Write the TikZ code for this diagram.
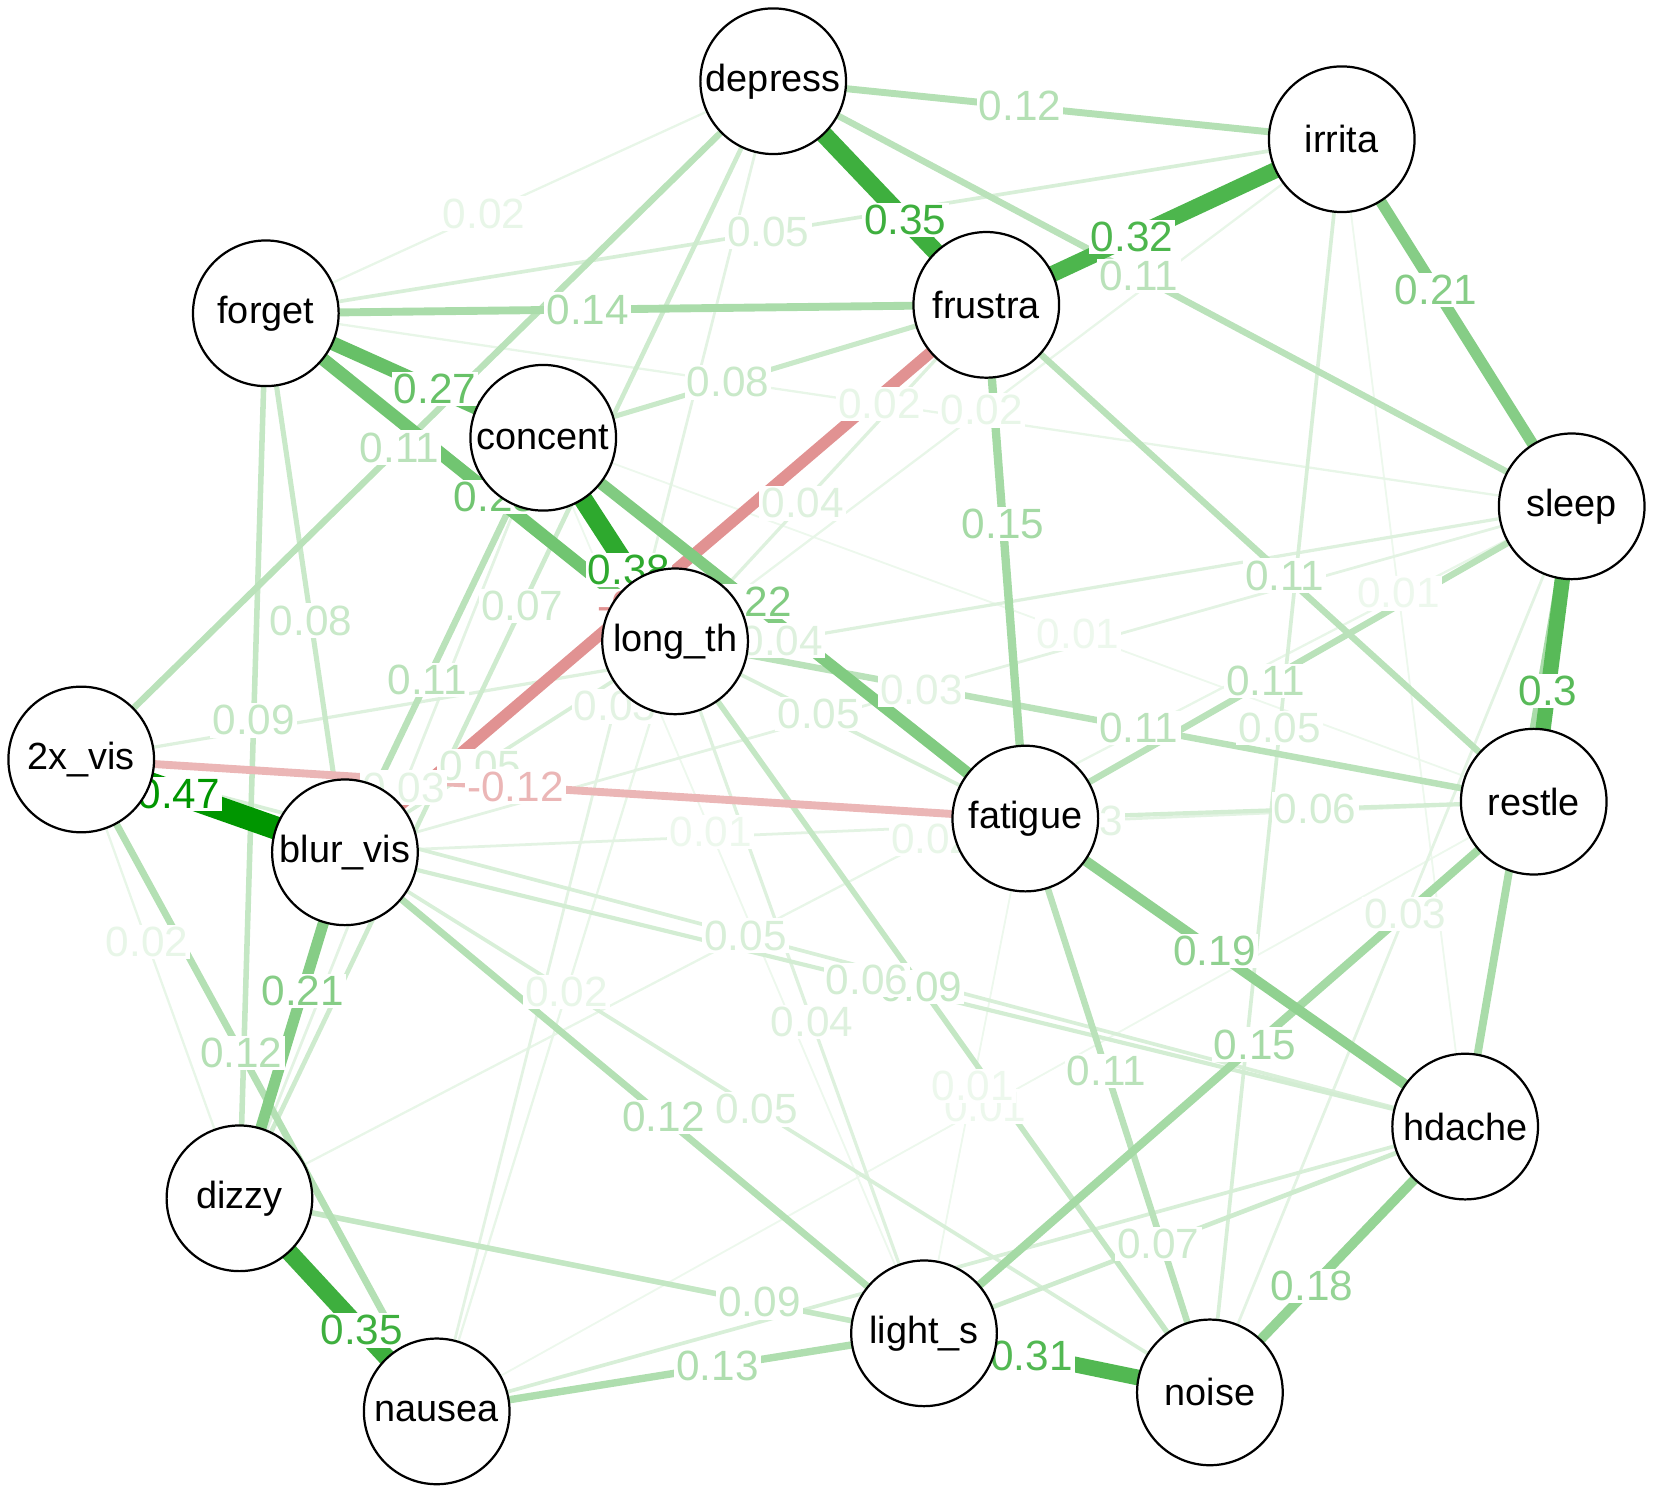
\documentclass[tikz,border=0pt]{standalone}
\usepackage{fontspec}
\setmainfont{Liberation Sans}
\usetikzlibrary{backgrounds}
\definecolor{posc}{RGB}{0,150,0}
\definecolor{negc}{RGB}{195,35,35}
% all connectors, weakest first (drawn in this order)
\def\linelist{concent/restle/0.01/posc, irrita/hdache/0.01/posc, concent/light/0.01/posc,
restle/nausea/0.01/posc, fatigue/light/0.01/posc,
forget/depress/0.02/posc, forget/sleep/0.02/posc, longth/irrita/0.02/posc, xvis/dizzy/0.02/posc,
sleep/dizzy/0.02/posc, longth/nausea/0.02/posc,
blur/restle/0.03/posc, sleep/noise/0.03/posc, blur/sleep/0.03/posc, dizzy/concent/0.03/posc,
depress/nausea/0.03/posc,
longth/frustra/0.04/posc, xvis/sleep/0.04/posc, longth/light/0.04/posc,
forget/irrita/0.05/posc, irrita/noise/0.05/posc, xvis/hdache/0.05/posc, longth/fatigue/0.05/posc,
blur/longth/0.05/posc, blur/noise/0.05/posc, nausea/hdache/0.05/posc,
fatigue/restle/0.06/posc, blur/hdache/0.06/posc,
depress/dizzy/0.07/posc, hdache/light/0.07/posc,
concent/frustra/0.08/posc, forget/blur/0.08/posc,
forget/dizzy/0.09/posc, longth/noise/0.09/posc, dizzy/noise/0.09/posc,
depress/sleep/0.11/posc, depress/xvis/0.11/posc, concent/blur/0.11/posc, sleep/fatigue/0.11/posc,
longth/restle/0.11/posc, frustra/restle/0.11/posc, fatigue/noise/0.11/posc,
depress/irrita/0.12/posc, blur/light/0.12/posc, xvis/nausea/0.12/posc, xvis/fatigue/0.14/negc,
nausea/light/0.13/posc, sleep/hdache/0.14/posc, forget/frustra/0.14/posc,
frustra/fatigue/0.15/posc, restle/light/0.15/posc,
hdache/noise/0.18/posc, fatigue/hdache/0.19/posc,
frustra/blur/0.22/negc,
irrita/sleep/0.21/posc, blur/dizzy/0.21/posc, concent/fatigue/0.22/posc,
forget/longth/0.25/posc, forget/concent/0.27/posc, sleep/restle/0.3/posc,
light/noise/0.31/posc, frustra/irrita/0.32/posc, depress/frustra/0.35/posc,
dizzy/nausea/0.35/posc, concent/longth/0.38/posc, xvis/blur/0.47/posc}
% labels: from/to/weight/position/text
\def\edgelist{depress/irrita/0.12/0.434/0.12,
forget/depress/0.02/0.43/0.02,
forget/irrita/0.05/0.467/0.05,
depress/frustra/0.35/0.62/0.35,
frustra/irrita/0.32/0.41/0.32,
depress/sleep/0.11/0.458/0.11,
irrita/sleep/0.21/0.41/0.21,
forget/frustra/0.14/0.447/0.14,
forget/concent/0.27/0.61/0.27,
depress/xvis/0.11/0.54/0.11,
concent/frustra/0.08/0.417/0.08,
forget/sleep/0.02/0.47/0.02,
longth/irrita/0.02/0.46/0.02,
longth/frustra/0.04/0.41/0.04,
frustra/fatigue/0.15/0.427/0.15,
concent/longth/0.38/0.65/0.38,
concent/fatigue/0.22/0.43/0.22,
forget/longth/0.25/0.56/0.25,
forget/blur/0.08/0.57/0.08,
forget/dizzy/0.09/0.46/0.09,
concent/blur/0.11/0.585/0.11,
depress/dizzy/0.07/0.47/0.07,
xvis/sleep/0.04/0.47/0.04,
sleep/fatigue/0.11/0.56/0.11,
longth/restle/0.11/0.54/0.11,
frustra/restle/0.11/0.545/0.11,
sleep/restle/0.3/0.625/0.3,
irrita/noise/0.05/0.47/0.05,
fatigue/restle/0.06/0.57/0.06,
blur/restle/0.03/0.62/0.03,
fatigue/hdache/0.19/0.43/0.19,
sleep/noise/0.03/0.46/0.03,
restle/light/0.15/0.457/0.15,
fatigue/noise/0.11/0.44/0.11,
longth/noise/0.09/0.46/0.09,
blur/hdache/0.06/0.466/0.06,
xvis/hdache/0.05/0.48/0.05,
hdache/light/0.07/0.567/0.07,
hdache/noise/0.18/0.6/0.18,
light/noise/0.31/0.376/0.31,
nausea/light/0.13/0.576/0.13,
dizzy/noise/0.09/0.536/0.09,
dizzy/nausea/0.35/0.62/0.35,
blur/light/0.12/0.55/0.12,
xvis/dizzy/0.02/0.416/0.02,
xvis/nausea/0.12/0.45/0.12,
blur/dizzy/0.21/0.40/0.21,
blur/sleep/0.03/0.47/0.03,
concent/restle/0.01/0.54/0.01,
irrita/hdache/0.01/0.46/0.01,
longth/fatigue/0.05/0.41/0.05,
blur/longth/0.05/0.41/0.05,
dizzy/concent/0.03/0.54/0.03,
depress/nausea/0.03/0.47/0.03,
concent/light/0.01/0.44/0.01,
sleep/dizzy/0.02/0.48/0.02,
blur/noise/0.05/0.476/0.05,
longth/light/0.04/0.55/0.04,
longth/nausea/0.02/0.455/0.02,
restle/nausea/0.01/0.5/0.01,
fatigue/light/0.01/0.52/0.01,
xvis/blur/0.47/0.37/0.47}
\def\neglist{frustra/blur/0.22/0.55/-0.2,
xvis/fatigue/0.14/0.46/-0.12}
\begin{document}
\begin{tikzpicture}[x=0.01cm,y=-0.01cm,
  vnode/.style={circle,draw=black,line width=0.6pt,fill=white,minimum size=1.38cm,inner sep=0pt,font=\fontsize{10.2}{12}\selectfont},
  elab/.style={fill=white,inner sep=0.6pt,font=\fontsize{11.4}{13}\selectfont}]
\useasboundingbox (0,0) rectangle (1568,1415);
\node[vnode] (depress) at (733,77) {depress};
\node[vnode] (irrita) at (1272,132) {irrita};
\node[vnode] (forget) at (252,297) {forget};
\node[vnode] (frustra) at (935,289) {frustra};
\node[vnode] (concent) at (515,415) {concent};
\node[vnode] (sleep) at (1490,480) {sleep};
\node[vnode] (longth) at (640,608) {long\_th};
\node[vnode] (xvis) at (77,720) {2x\_vis};
\node[vnode] (blur) at (327,808) {blur\_vis};
\node[vnode] (fatigue) at (972,776) {fatigue};
\node[vnode] (restle) at (1454,760) {restle};
\node[vnode] (hdache) at (1389,1068) {hdache};
\node[vnode] (dizzy) at (227,1136) {dizzy};
\node[vnode] (light) at (876,1264) {light\_s};
\node[vnode] (noise) at (1147,1320) {noise};
\node[vnode] (nausea) at (414,1338) {nausea};
\begin{pgfonlayer}{background}
% connectors
\foreach \a/\b/\w/\c in \linelist {
  \pgfmathsetmacro\pc{5+95*\w/0.47}
  \pgfmathsetmacro\lw{(1.3+44*\w)*0.2845}
  \draw[line width=\lw pt,draw=\c!\pc!white] (\a.center) -- (\b.center);
}
% edge labels
\foreach \a/\b/\w/\t/\l in \edgelist {
  \pgfmathsetmacro\pc{5+95*\w/0.47}
  \path (\a.center) -- (\b.center) node[elab,pos=\t,text=posc!\pc!white] {\l};
}
\foreach \a/\b/\w/\t/\l in \neglist {
  \pgfmathsetmacro\pc{5+95*\w/0.47}
  \path (\a.center) -- (\b.center) node[elab,pos=\t,text=negc!\pc!white] {\l};
}
\end{pgfonlayer}
\end{tikzpicture}
\end{document}
